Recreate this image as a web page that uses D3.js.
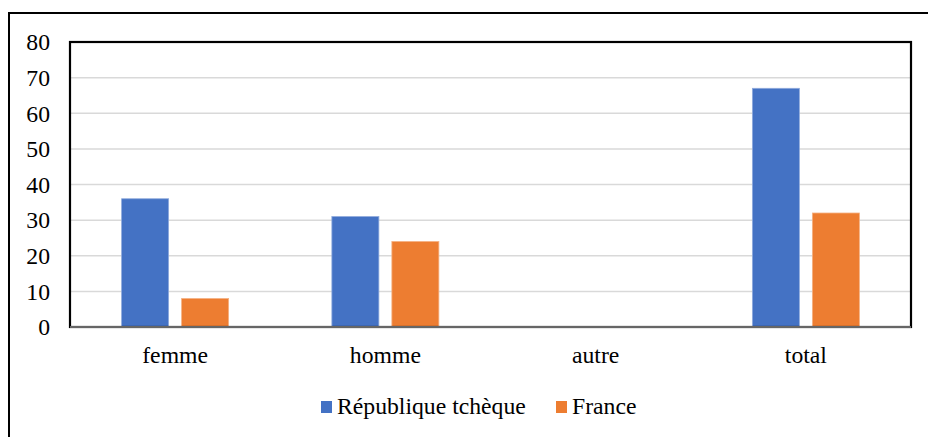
<!DOCTYPE html>
<html>
<head>
<meta charset="utf-8">
<script src="https://cdn.jsdelivr.net/npm/d3@7"></script>
<style>
  body { margin: 0; background: #fff; }
</style>
</head>
<body>
<svg id="chart" width="928" height="437"></svg>
<script>
const categories = ['femme', 'homme', 'autre', 'total'];
const seriesNames = ['République tchèque', 'France'];
const czValues = [36, 31, 0, 67];
const frValues = [8, 24, 0, 32];
const yTicks = [0, 10, 20, 30, 40, 50, 60, 70, 80];
const colors = ['#4472C4', '#ED7D31'];

const police = "'Liberation Serif', 'Times New Roman', Tinos, serif";
const taille = '23.7px';

const svg = d3.select('#chart').style('font-family', police);
const plot = { left: 70, top: 42, right: 911, bottom: 327 };

// cadre extérieur
svg.append('rect')
  .attr('x', 9).attr('y', 13)
  .attr('width', 940).attr('height', 440)
  .attr('fill', 'none').attr('stroke', '#000').attr('stroke-width', 2);

const x = d3.scaleBand().domain(categories).range([plot.left, plot.right]);
const y = d3.scaleLinear().domain([0, 80]).range([plot.bottom, plot.top]);

// grille
svg.append('g').selectAll('line')
  .data(yTicks.slice(1))
  .join('line')
  .attr('x1', plot.left).attr('x2', plot.right)
  .attr('y1', d => y(d)).attr('y2', d => y(d))
  .attr('stroke', '#d9d9d9').attr('stroke-width', 1.5);

// étiquettes de l'axe y
svg.append('g').selectAll('text')
  .data(yTicks)
  .join('text')
  .attr('x', 50)
  .attr('y', d => y(d) + 8.3)
  .attr('text-anchor', 'end')
  .style('font-size', taille)
  .text(d => d);

// barres
const barW = 47, gap = 13;
const rows = categories.map((c, i) => ({ cat: c, vals: [czValues[i], frValues[i]] }));
const grp = svg.append('g').selectAll('g')
  .data(rows)
  .join('g');
grp.selectAll('rect')
  .data(d => d.vals.map((v, k) => ({ cat: d.cat, v, k })))
  .join('rect')
  .filter(d => d.v > 0)
  .attr('x', d => x(d.cat) + x.bandwidth() / 2 + (d.k === 0 ? -(barW + gap / 2) : gap / 2))
  .attr('y', d => y(d.v))
  .attr('width', barW)
  .attr('height', d => y(0) - y(d.v))
  .attr('fill', d => colors[d.k])
  .attr('stroke', d => d.k === 0 ? '#8faadc' : '#f4b183')
  .attr('stroke-width', 0.8);

// cadre de la zone de tracé
svg.append('rect')
  .attr('x', plot.left).attr('y', plot.top)
  .attr('width', plot.right - plot.left).attr('height', plot.bottom - plot.top)
  .attr('fill', 'none').attr('stroke', '#000').attr('stroke-width', 2.2);

// axe x
svg.append('line')
  .attr('x1', plot.left).attr('x2', plot.right)
  .attr('y1', plot.bottom).attr('y2', plot.bottom)
  .attr('stroke', '#898989').attr('stroke-width', 1.5);

svg.append('g').selectAll('text')
  .data(categories)
  .join('text')
  .attr('x', d => x(d) + x.bandwidth() / 2)
  .attr('y', 363)
  .attr('text-anchor', 'middle')
  .style('font-size', taille)
  .text(d => d);

// légende
const legendItems = [
  { name: seriesNames[0], color: colors[0], x: 321 },
  { name: seriesNames[1], color: colors[1], x: 556 }
];
const leg = svg.append('g').selectAll('g')
  .data(legendItems)
  .join('g')
  .attr('transform', d => `translate(${d.x},401)`);
leg.append('rect')
  .attr('width', 11).attr('height', 12)
  .attr('fill', d => d.color);
leg.append('text')
  .attr('x', 16).attr('y', 12.5)
  .style('font-size', taille)
  .text(d => d.name);
</script>
</body>
</html>
